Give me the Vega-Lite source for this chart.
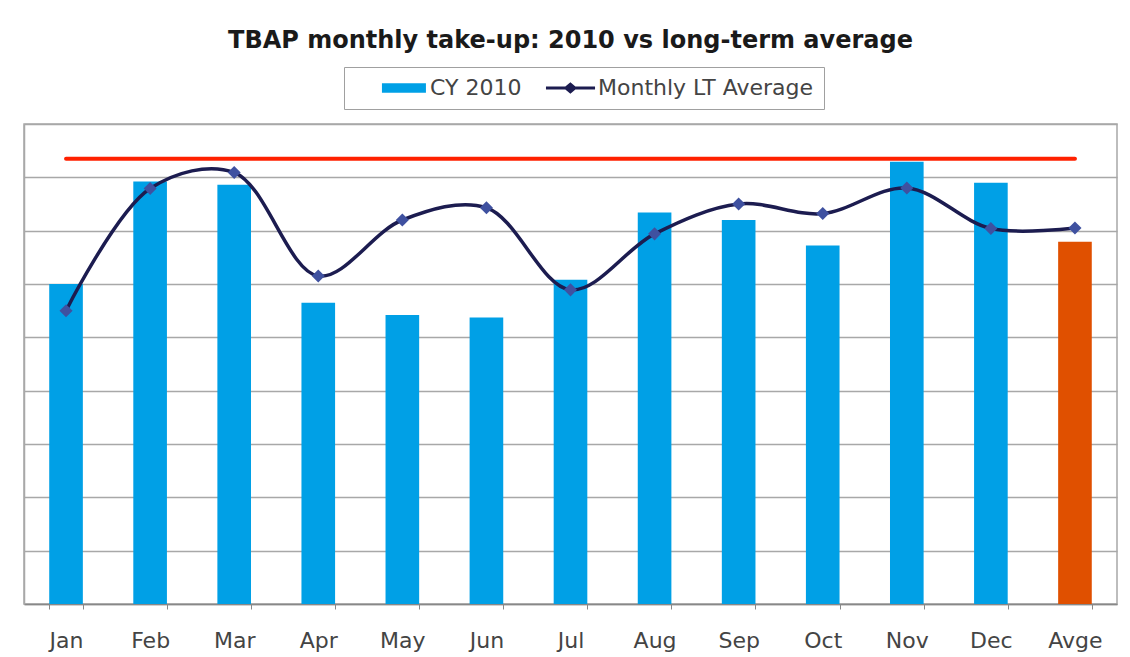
{
  "$schema": "https://vega.github.io/schema/vega-lite/v6.json",
  "autosize": {"type": "none"},
  "width": 1093,
  "height": 480,
  "padding": {"left": 24, "top": 124, "right": 13, "bottom": 53},
  "background": "white",
  "title": {
    "text": "TBAP monthly take-up: 2010 vs long-term average",
    "font": "DejaVu Sans",
    "fontSize": 24,
    "fontWeight": "bold",
    "color": "#1a1a1a",
    "anchor": "middle",
    "offset": 14
  },
  "config": {
    "view": {"stroke": "#a8a8a8", "strokeWidth": 1.5},
    "font": "DejaVu Sans"
  },
  "data": {
    "values": [
      {"month": "Jan", "cy2010": 6.0, "ltavg": 5.5, "target": 8.35},
      {"month": "Feb", "cy2010": 7.92, "ltavg": 7.79, "target": 8.35},
      {"month": "Mar", "cy2010": 7.86, "ltavg": 8.09, "target": 8.35},
      {"month": "Apr", "cy2010": 5.65, "ltavg": 6.15, "target": 8.35},
      {"month": "May", "cy2010": 5.42, "ltavg": 7.2, "target": 8.35},
      {"month": "Jun", "cy2010": 5.37, "ltavg": 7.43, "target": 8.35},
      {"month": "Jul", "cy2010": 6.08, "ltavg": 5.89, "target": 8.35},
      {"month": "Aug", "cy2010": 7.34, "ltavg": 6.94, "target": 8.35},
      {"month": "Sep", "cy2010": 7.2, "ltavg": 7.5, "target": 8.35},
      {"month": "Oct", "cy2010": 6.72, "ltavg": 7.32, "target": 8.35},
      {"month": "Nov", "cy2010": 8.29, "ltavg": 7.8, "target": 8.35},
      {"month": "Dec", "cy2010": 7.9, "ltavg": 7.04, "target": 8.35},
      {"month": "Avge", "cy2010": 6.79, "ltavg": 7.05, "target": 8.35}
    ]
  },
  "encoding": {
    "x": {
      "field": "month",
      "type": "nominal",
      "sort": null,
      "title": null,
      "scale": {"paddingInner": 0.6, "paddingOuter": 0.3},
      "axis": {
        "labelAngle": 0,
        "labelFontSize": 22,
        "labelFont": "DejaVu Sans",
        "labelColor": "#444444",
        "labelPadding": 21,
        "tickBand": "extent",
        "tickSize": 5,
        "tickColor": "#888888",
        "domainColor": "#888888",
        "domainWidth": 1.5
      }
    }
  },
  "layer": [
    {
      "mark": {"type": "bar"},
      "encoding": {
        "y": {
          "field": "cy2010",
          "type": "quantitative",
          "title": null,
          "scale": {"domain": [0, 9], "nice": false},
          "axis": {
            "values": [0, 1, 2, 3, 4, 5, 6, 7, 8, 9],
            "labels": false,
            "ticks": false,
            "grid": true,
            "gridColor": "#a8a8a8",
            "gridWidth": 1.5,
            "domainColor": "#a8a8a8",
            "domainWidth": 1.5
          }
        },
        "color": {
          "condition": {"test": "datum.month === 'Avge'", "value": "#e05000"},
          "datum": "CY 2010",
          "type": "nominal",
          "scale": {"domain": ["CY 2010", "Monthly LT Average"], "range": ["#00a0e6", "#1c1c50"]},
          "legend": {
            "title": null,
            "orient": "none",
            "legendX": 320,
            "legendY": -57,
            "direction": "horizontal",
            "padding": 10,
            "strokeColor": "#a0a0a0",
            "fillColor": "white",
            "labelFont": "DejaVu Sans",
            "labelFontSize": 22,
            "labelColor": "#444444",
            "labelOffset": 54,
            "columnPadding": -10,
            "symbolSize": 1936,
            "symbolStrokeWidth": 3,
            "labelLimit": 400,
            "encode": {
              "symbols": {
                "update": {
                  "shape": {"signal": "datum.value === 'CY 2010' ? 'M0.77,-0.22H2.77V0.22H0.77Z' : 'M0.59,0H1.5L1.7,-0.17L1.9,0L1.7,0.17L1.5,0Z M1.9,0H2.82'"},
                  "fill": {"signal": "datum.value === 'CY 2010' ? '#00a0e6' : '#3f51a0'"},
                  "stroke": {"signal": "datum.value === 'CY 2010' ? 'transparent' : '#1c1c50'"},
                  "strokeWidth": {"signal": "datum.value === 'CY 2010' ? 0 : 3"}
                }
              }
            }
          }
        }
      }
    },
    {
      "mark": {"type": "line", "color": "#ff2000", "strokeWidth": 4, "strokeCap": "round"},
      "encoding": {"y": {"field": "target", "type": "quantitative"}}
    },
    {
      "mark": {"type": "line", "interpolate": "catmull-rom", "strokeWidth": 3.5},
      "encoding": {
        "y": {"field": "ltavg", "type": "quantitative"},
        "color": {"datum": "Monthly LT Average", "type": "nominal"}
      }
    },
    {
      "mark": {"type": "point", "shape": "diamond", "filled": true, "size": 170, "color": "#3f51a0", "opacity": 1},
      "encoding": {"y": {"field": "ltavg", "type": "quantitative"}}
    }
  ]
}
